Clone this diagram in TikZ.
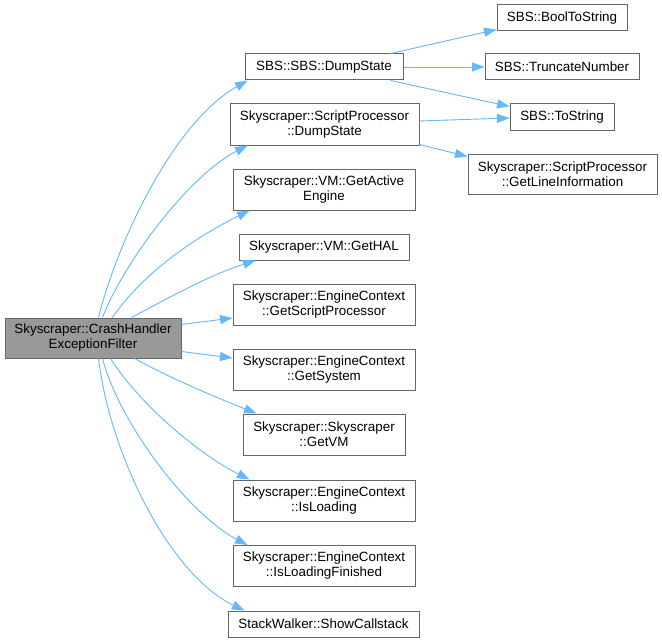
\documentclass[tikz,border=0pt]{standalone}
\usepackage{fontspec}
\setmainfont{Liberation Sans}
\usetikzlibrary{arrows.meta}
\definecolor{edgeblue}{HTML}{63B8FF}
\definecolor{boxborder}{HTML}{666666}
\definecolor{mainfill}{HTML}{999999}
\begin{document}
\begin{tikzpicture}[x=1pt,y=-1pt,
  box/.style={draw=boxborder,line width=1pt,fill=white,inner sep=0pt,align=center,
    font=\fontsize{13.4}{15}\selectfont,text=black},
  mainbox/.style={box,fill=mainfill},
  call/.style={draw=edgeblue,line width=0.9pt,-{Triangle[length=12.5pt,width=9pt]}}]
\useasboundingbox (0,0) rectangle (662,642);
\fill[white] (0,0) rectangle (662,642);
% nodes
\node[mainbox,minimum width=176pt,minimum height=40pt] (main) at (93,338) {Skyscraper::CrashHandler\\ExceptionFilter};
\node[box,minimum width=158pt,minimum height=26pt] (sbsdump) at (324,67) {SBS::SBS::DumpState};
\node[box,minimum width=189pt,minimum height=41pt] (spdump) at (324.5,124.5) {Skyscraper::ScriptProcessor\\::DumpState};
\node[box,minimum width=182pt,minimum height=41pt] (gae) at (324,189.5) {Skyscraper::VM::GetActive\\Engine};
\node[box,minimum width=170pt,minimum height=26pt] (hal) at (324,247) {Skyscraper::VM::GetHAL};
\node[box,minimum width=182pt,minimum height=41pt] (gsp) at (324,304.5) {Skyscraper::EngineContext\\::GetScriptProcessor};
\node[box,minimum width=182pt,minimum height=41pt] (gsys) at (324,369.5) {Skyscraper::EngineContext\\::GetSystem};
\node[box,minimum width=162pt,minimum height=41pt] (gvm) at (324,434.5) {Skyscraper::Skyscraper\\::GetVM};
\node[box,minimum width=182pt,minimum height=41pt] (isl) at (324,500.5) {Skyscraper::EngineContext\\::IsLoading};
\node[box,minimum width=182pt,minimum height=41pt] (islf) at (324,566) {Skyscraper::EngineContext\\::IsLoadingFinished};
\node[box,minimum width=191pt,minimum height=26pt] (scs) at (323.5,624) {StackWalker::ShowCallstack};
\node[box,minimum width=130pt,minimum height=26pt] (bool) at (562,18) {SBS::BoolToString};
\node[box,minimum width=154pt,minimum height=26pt] (trunc) at (562,67) {SBS::TruncateNumber};
\node[box,minimum width=104pt,minimum height=26pt] (tostr) at (562,117) {SBS::ToString};
\node[box,minimum width=189pt,minimum height=40pt] (gli) at (562.5,174) {Skyscraper::ScriptProcessor\\::GetLineInformation};
% edges from main
\draw[call] ([xshift=94pt]main.north west) .. controls (115,250) and (170,125) .. ([xshift=3pt]sbsdump.south west);
\draw[call] ([xshift=98pt]main.north west) .. controls (125,260) and (190,175) .. ([xshift=18pt]spdump.south west);
\draw[call] ([xshift=108pt]main.north west) .. controls (145,270) and (200,235) .. ([xshift=17pt]gae.south west);
\draw[call] ([xshift=127pt]main.north west) .. controls (170,297) and (210,275) .. ([xshift=17pt]hal.south west);
\draw[call] ([yshift=-7pt]main.north east) -- ([yshift=-13.5pt]gsp.west);
\draw[call] ([yshift=7pt]main.south east) -- ([yshift=11.5pt]gsys.west);
\draw[call] ([xshift=130pt]main.south west) .. controls (170,378) and (215,397) .. ([xshift=14pt]gvm.north west);
\draw[call] ([xshift=106pt]main.south west) .. controls (140,405) and (200,455) .. ([xshift=17pt]isl.north west);
\draw[call] ([xshift=98pt]main.south west) .. controls (120,425) and (190,515) .. ([xshift=15pt]islf.north west);
\draw[call] ([xshift=94pt]main.south west) .. controls (110,455) and (170,575) .. ([xshift=17pt]scs.north west);
% edges second level
\draw[call] ([xshift=-13pt]sbsdump.north east) -- ([yshift=2pt]bool.south west);
\draw[call] (sbsdump.east) -- (trunc.west);
\draw[call] ([xshift=-13pt]sbsdump.south east) -- ([yshift=-3pt]tostr.north west);
\draw[call] ([yshift=3.5pt]spdump.east) -- ([yshift=-1pt]tostr.west);
\draw[call] ([yshift=1pt]spdump.south east) -- ([yshift=-3pt]gli.north west);
\end{tikzpicture}
\end{document}
